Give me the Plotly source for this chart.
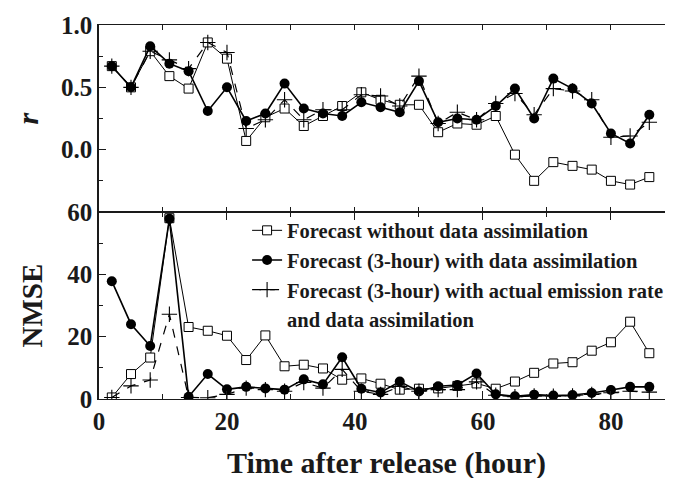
import plotly.graph_objects as go
from plotly.subplots import make_subplots

# ---- data ----
time_h = [2, 5, 8, 11, 14, 17, 20, 23, 26, 29, 32, 35, 38, 41, 44, 47, 50, 53, 56, 59,
          62, 65, 68, 71, 74, 77, 80, 83, 86]

r_no_da = [0.67, 0.50, 0.79, 0.59, 0.49, 0.86, 0.73, 0.07, 0.26, 0.33, 0.19, 0.27, 0.35, 0.46,
           0.40, 0.36, 0.36, 0.14, 0.21, 0.20, 0.27, -0.04, -0.25, -0.10, -0.13, -0.16, -0.25,
           -0.28, -0.22]
r_da = [0.67, 0.50, 0.83, 0.69, 0.63, 0.31, 0.50, 0.23, 0.29, 0.53, 0.33, 0.29, 0.27, 0.38,
        0.34, 0.30, 0.55, 0.22, 0.25, 0.24, 0.35, 0.49, 0.25, 0.57, 0.49, 0.37, 0.13, 0.05, 0.28]
r_actual = [0.67, 0.50, 0.79, 0.72, 0.65, 0.86, 0.78, 0.17, 0.24, 0.40, 0.24, 0.32, 0.32, 0.44,
            0.43, 0.35, 0.59, 0.21, 0.30, 0.24, 0.37, 0.45, 0.28, 0.49, 0.47, 0.40, 0.10, 0.11,
            0.22]

nmse_no_da = [0.5, 8.0, 13.3, 58.0, 23.1, 21.9, 20.3, 12.5, 20.4, 10.5, 11.0, 9.8, 6.2, 6.6,
              4.9, 3.0, 3.3, 3.4, 4.2, 5.0, 3.3, 5.6, 8.4, 11.4, 11.8, 15.5, 18.2, 24.8, 14.7]
nmse_da = [37.8, 24.0, 17.0, 57.8, 0.7, 8.0, 3.1, 3.9, 3.4, 3.0, 6.3, 4.7, 13.4, 3.3, 2.1, 5.6,
           2.4, 4.1, 4.5, 8.2, 1.5, 0.9, 1.4, 1.1, 1.3, 1.9, 2.9, 3.9, 3.9]
nmse_actual = [0.5, 4.2, 6.1, 27.2, 0.5, 0.4, 1.5, 3.5, 3.0, 2.5, 5.3, 3.5, 9.5, 2.5, 1.5, 4.0,
               2.5, 3.0, 3.0, 5.5, 1.2, 0.7, 1.0, 0.9, 1.0, 1.5, 2.0, 2.5, 2.2]

names = ["Forecast without data assimilation",
         "Forecast (3-hour) with data assimilation",
         "Forecast (3-hour) with actual emission rate",
         "and data assimilation"]

FONT = "Liberation Serif"
INK = "#1a1a1a"

fig = make_subplots(rows=2, cols=1, shared_xaxes=True, vertical_spacing=0)

sq = dict(symbol="square", size=9, color="white", line=dict(color="black", width=1))
ci = dict(symbol="circle", size=10, color="black")
pl = dict(symbol="cross-thin", size=11, color="black", line=dict(color="black", width=1.1))

for row, (a, b, c) in enumerate([(r_no_da, r_da, r_actual),
                                 (nmse_no_da, nmse_da, nmse_actual)], start=1):
    show = row == 2
    fig.add_trace(go.Scatter(x=time_h, y=a, mode="lines+markers", name=names[0],
                             line=dict(color="black", width=1), marker=sq,
                             showlegend=show, legendgroup="a"), row=row, col=1)
    fig.add_trace(go.Scatter(x=time_h, y=c, mode="lines+markers", name=names[2],
                             line=dict(color="black", width=1.2, dash="dash"), marker=pl,
                             showlegend=False, legendgroup="c"), row=row, col=1)
    fig.add_trace(go.Scatter(x=time_h, y=b, mode="lines+markers", name=names[1],
                             line=dict(color="black", width=1.6), marker=ci,
                             showlegend=show, legendgroup="b"), row=row, col=1)

# legend-only entries to keep the legend order / layout of the reference
fig.add_trace(go.Scatter(x=[None], y=[None], mode="lines+markers", name=names[2],
                         line=dict(color="black", width=1.2, dash="dash"), marker=pl,
                         legendgroup="c"), row=2, col=1)
fig.add_trace(go.Scatter(x=[None], y=[None], mode="lines", name=names[3],
                         line=dict(color="rgba(0,0,0,0)", width=0),
                         legendgroup="d"), row=2, col=1)

tickfont = dict(family=FONT, size=25, color=INK, weight="bold")

xcommon = dict(range=[0, 89.7], showline=True, linecolor=INK, linewidth=1.1,
               mirror="ticks", ticks="inside", ticklen=5, tickcolor=INK,
               dtick=10, tick0=0, showgrid=False, zeroline=False)
fig.update_xaxes(**xcommon)
fig.update_xaxes(showticklabels=False, row=1, col=1)
fig.update_xaxes(showticklabels=True, tickvals=[0, 20, 40, 60, 80], tickfont=tickfont,
                 ticklen=8, minor=dict(dtick=10, tick0=0, ticks="inside", ticklen=5,
                                       tickcolor=INK),
                 row=2, col=1)

ycommon = dict(showline=True, linecolor=INK, linewidth=1.5, ticks="inside",
               ticklen=7, tickcolor=INK, showgrid=False, zeroline=False,
               tickfont=tickfont)
fig.update_yaxes(**ycommon)
fig.update_yaxes(range=[-0.5, 1.0], tickvals=[0, 0.5, 1.0], ticktext=["0.0", "0.5", "1.0"],
                 minor=dict(tickvals=[-0.25, 0.25, 0.75], ticks="inside", ticklen=4,
                            tickcolor=INK),
                 row=1, col=1)
fig.update_yaxes(range=[0, 60], tickvals=[0, 20, 40, 60],
                 minor=dict(tickvals=[10, 30, 50], ticks="inside", ticklen=4,
                            tickcolor=INK),
                 row=2, col=1)

fig.add_annotation(text="<b><i>r</i></b>", xref="paper", yref="paper", x=0, y=0.75,
                   xshift=-72, xanchor="center", yanchor="middle", textangle=-90,
                   showarrow=False, font=dict(family=FONT, size=30, color=INK))
fig.add_annotation(text="<b>NMSE</b>", xref="paper", yref="paper", x=0, y=0.25,
                   xshift=-68, xanchor="center", yanchor="middle", textangle=-90,
                   showarrow=False, font=dict(family=FONT, size=29, color=INK))
fig.add_annotation(text="<b>Time after release (hour)</b>", xref="paper", yref="paper",
                   x=0.5, y=-0.171, xanchor="center", yanchor="middle", showarrow=False,
                   font=dict(family=FONT, size=30, color=INK))

# page body has an 8px margin, so the figure is 8px smaller than the window
fig.update_layout(
    width=665, height=470,
    margin=dict(l=91, r=0, t=17, b=79),
    paper_bgcolor="white", plot_bgcolor="white",
    showlegend=True,
    legend=dict(x=0.258, y=0.504, xanchor="left", yanchor="top",
                bgcolor="rgba(0,0,0,0)", borderwidth=0,
                font=dict(family=FONT, size=20.5, color=INK, weight="bold"),
                traceorder="normal", tracegroupgap=0),
)

fig.write_html("out.html")
